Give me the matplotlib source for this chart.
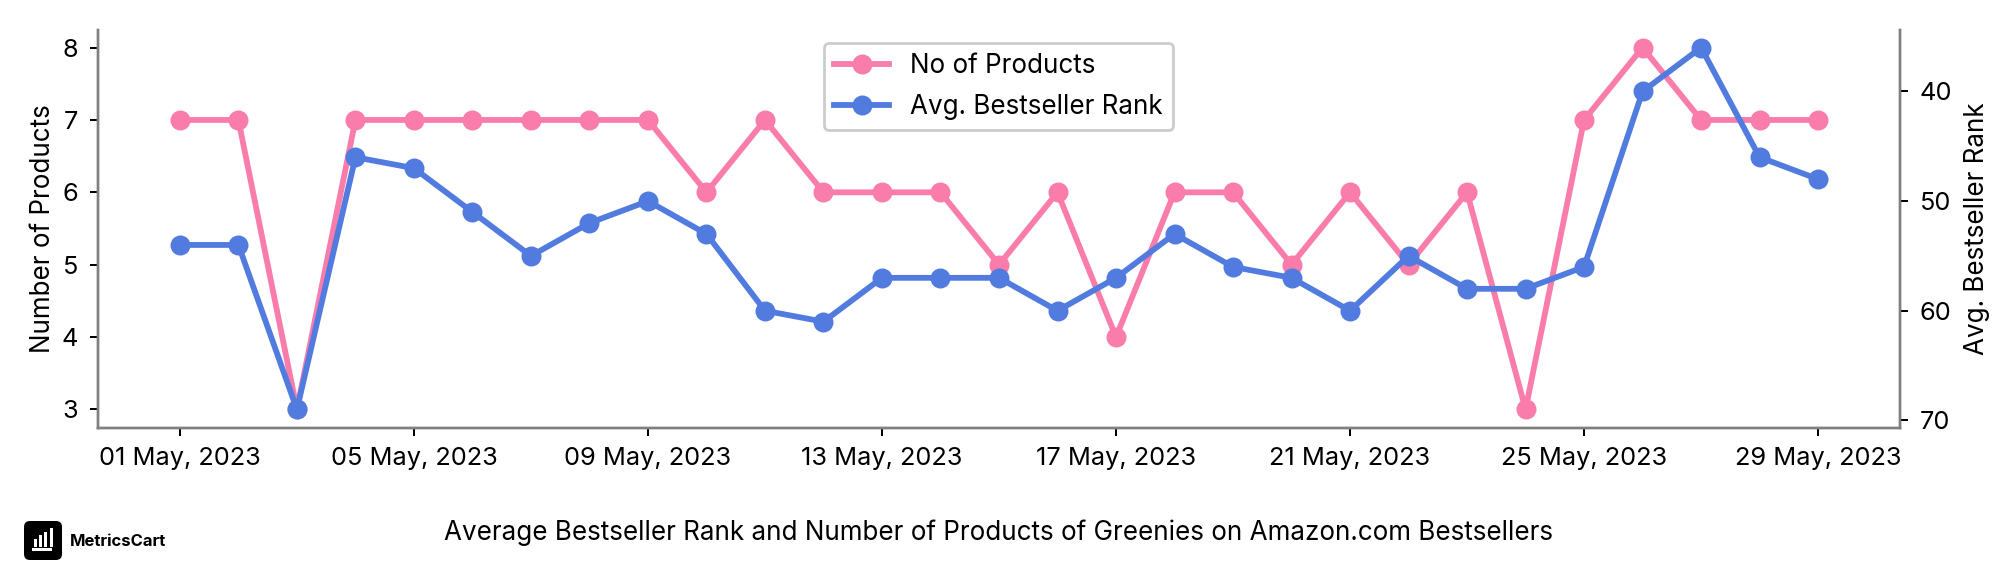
import pandas as pd
import matplotlib.pyplot as plt
import matplotlib.dates as mdates
from matplotlib.patches import FancyBboxPatch, Rectangle

plt.rcParams["font.family"] = ["Inter", "DejaVu Sans"]

days = pd.date_range("2023-05-01", "2023-05-29")
products = [7, 7, 3, 7, 7, 7, 7, 7, 7, 6, 7, 6, 6, 6, 5, 6, 4, 6, 6, 5, 6, 5, 6, 3, 7, 8, 7, 7, 7]
avg_rank = [54, 54, 69, 46, 47, 51, 55, 52, 50, 53, 60, 61, 57, 57, 57, 60, 57, 53, 56, 57, 60, 55, 58, 58, 56, 40, 36, 46, 48]

PINK = "#F97CAB"
BLUE = "#527BE0"
W, H = 2016, 576

fig = plt.figure(figsize=(14, 4), dpi=144)
ax = fig.add_axes([98 / W, 1 - 427.5 / H, (1900 - 98) / W, (427.5 - 29.5) / H])
ax2 = ax.twinx()

l1, = ax.plot(days, products, color=PINK, lw=2.9, marker="o", ms=9, label="No of Products")
l2, = ax2.plot(days, avg_rank, color=BLUE, lw=2.9, marker="o", ms=9, label="Avg. Bestseller Rank")

ax.set_xlim(days[0] - pd.Timedelta(days=1.4), days[-1] + pd.Timedelta(days=1.4))
ax.set_ylim(2.75, 8.25)
ax2.set_ylim(70.65, 34.35)

ax.set_xticks(days[::4])
ax.xaxis.set_major_formatter(mdates.DateFormatter("%d %b, %Y"))
ax.set_yticks([3, 4, 5, 6, 7, 8])
ax2.set_yticks([40, 50, 60, 70])

for a in (ax, ax2):
    a.spines["top"].set_visible(False)
    for side in ("left", "right", "bottom"):
        a.spines[side].set_color("#808080")
        a.spines[side].set_linewidth(1.2)
    a.tick_params(labelsize=12.7, length=4, width=1, pad=6)

ax.set_ylabel("Number of Products", fontsize=13, labelpad=2.5)
ax2.set_ylabel("Avg. Bestseller Rank", fontsize=13, labelpad=6)

leg = ax2.legend(handles=[l1, l2], loc="upper left", bbox_to_anchor=(824 / W, 1 - 43 / H),
                 bbox_transform=fig.transFigure, fontsize=13, borderaxespad=0, framealpha=1,
                 edgecolor="#cccccc", handlelength=2.1, handletextpad=0.8, labelspacing=0.55)
leg.get_frame().set_linewidth(1.4)

fig.text(999 / W, 1 - 533 / H, "Average Bestseller Rank and Number of Products of Greenies on Amazon.com Bestsellers",
         ha="center", va="center", fontsize=13, color="black")

# logo
logo = fig.add_axes([24 / W, 1 - 560 / H, 38 / W, 39 / H])
logo.set_xlim(0, 38)
logo.set_ylim(0, 39)
logo.axis("off")
logo.add_patch(FancyBboxPatch((3, 3), 32, 33, boxstyle="round,pad=3,rounding_size=6", fc="black", ec="none"))
for bx, bh in [(10, 8), (15, 12), (20, 15), (26, 19)]:
    logo.add_patch(Rectangle((bx, 13), 2.6, bh, fc="white", ec="none"))
logo.add_patch(Rectangle((8, 9.5), 20, 2.2, fc="white", ec="none"))
fig.text(70 / W, 1 - 541 / H, "MetricsCart", ha="left", va="center", fontsize=8.3, fontweight="bold", color="black")

fig.savefig("out.png", dpi=144)
